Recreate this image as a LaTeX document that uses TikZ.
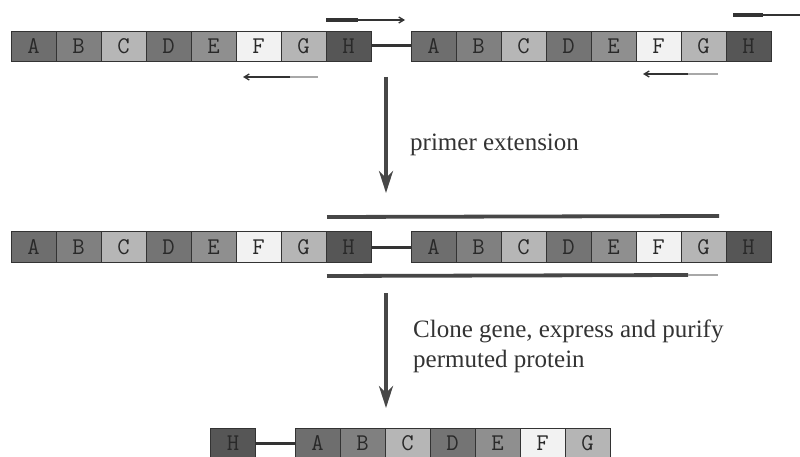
\documentclass[tikz,border=0pt]{standalone}
\usepackage{fontspec}
\setmainfont{Liberation Serif}
\usetikzlibrary{arrows.meta}

% greys of the eight segments
\definecolor{cA}{HTML}{6E6E6E}
\definecolor{cB}{HTML}{808080}
\definecolor{cC}{HTML}{B6B6B6}
\definecolor{cD}{HTML}{747474}
\definecolor{cE}{HTML}{8F8F8F}
\definecolor{cF}{HTML}{F2F2F2}
\definecolor{cG}{HTML}{B5B5B5}
\definecolor{cH}{HTML}{565656}
\definecolor{ink}{HTML}{333333}
\definecolor{fade}{HTML}{A8A8A8}

\tikzset{
  seg/.style={draw=ink, line width=0.8pt, minimum width=45pt, minimum height=30pt,
    inner sep=0pt, text=ink!80!black, font=\ttfamily\fontsize{24}{24}\selectfont},
  linker/.style={draw=ink, line width=3pt},
  thickprimer/.style={draw=ink, line width=3.5pt},
  thinprimer/.style={draw=ink, line width=1.3pt},
  fadetail/.style={draw=fade, line width=2.2pt},
  strand/.style={draw=ink!90, line width=3.8pt},
  bigarrow/.style={draw=ink!90, line width=4pt,
    -{Stealth[length=22pt, width=14pt, inset=7pt]}},
  primtip/.style={-{Straight Barb[length=5pt, width=6pt]}},
  label/.style={anchor=base west, inner sep=0pt, text=ink,
    font=\fontsize{25}{25}\selectfont},
}

\begin{document}
\begin{tikzpicture}[x=1pt, y=-1pt]
\useasboundingbox (0,0) rectangle (800,457);

% ---- row 1: tandem copy of the gene with primers ----
\foreach \L [count=\i] in {A,B,C,D,E,F,G,H} {
  \node[seg, fill=c\L] (p\L) at ({11+22.5+45*(\i-1)}, 46) {\L};
  \node[seg, fill=c\L] (q\L) at ({411+22.5+45*(\i-1)}, 46) {\L};
}
\draw[linker] (pH.east) -- (qA.west);

% forward primers
\coordinate (f1a) at (326,20); \coordinate (f1b) at (358,20); \coordinate (f1c) at (405,20);
\draw[thickprimer] (f1a) -- (f1b);
\draw[thinprimer, primtip] (f1b) -- (f1c);
\coordinate (f2a) at (733,15); \coordinate (f2b) at (763,15); \coordinate (f2c) at (800,15);
\draw[thickprimer] (f2a) -- (f2b);
\draw[thinprimer] (f2b) -- (f2c);

% reverse primers
\coordinate (r1a) at (318,77); \coordinate (r1b) at (290,77); \coordinate (r1c) at (243,77);
\draw[fadetail] (r1a) -- (r1b);
\draw[thinprimer, primtip] (r1b) -- (r1c);
\coordinate (r2a) at (718,74); \coordinate (r2b) at (688,74); \coordinate (r2c) at (643,74);
\draw[fadetail] (r2a) -- (r2b);
\draw[thinprimer, primtip] (r2b) -- (r2c);

% step 1
\coordinate (a1s) at (386,77); \coordinate (a1e) at (386,193);
\draw[bigarrow] (a1s) -- (a1e);
\node[label] (t1) at (410,151) {primer extension};

% ---- row 2: extended product ----
\foreach \L [count=\i] in {A,B,C,D,E,F,G,H} {
  \node[seg, fill=c\L, minimum height=31pt] (m\L) at ({11+22.5+45*(\i-1)}, 247) {\L};
  \node[seg, fill=c\L, minimum height=31pt] (n\L) at ({411+22.5+45*(\i-1)}, 247) {\L};
}
\draw[linker] (mH.east) -- (nA.west);

\coordinate (u1) at (327,217); \coordinate (u2) at (719,216);
\draw[strand] (u1) -- (u2);
\coordinate (l1) at (327,276); \coordinate (l2) at (688,275); \coordinate (l3) at (718,275);
\draw[strand] (l1) -- (l2);
\draw[fadetail] (l2) -- (l3);

% step 2
\coordinate (a2s) at (386,293); \coordinate (a2e) at (386,408);
\draw[bigarrow] (a2s) -- (a2e);
\node[label] (t2) at (413,337) {Clone gene, express and purify};
\node[label] (t3) at (413,367) {permuted protein};

% ---- row 3: circularly permuted protein ----
\node[seg, fill=cH] (zH) at (233,443) {H};
\foreach \L [count=\i] in {A,B,C,D,E,F,G} {
  \node[seg, fill=c\L] (z\L) at ({295+22.5+45*(\i-1)}, 443) {\L};
}
\draw[linker] (zH.east) -- (zA.west);
\end{tikzpicture}
\end{document}
